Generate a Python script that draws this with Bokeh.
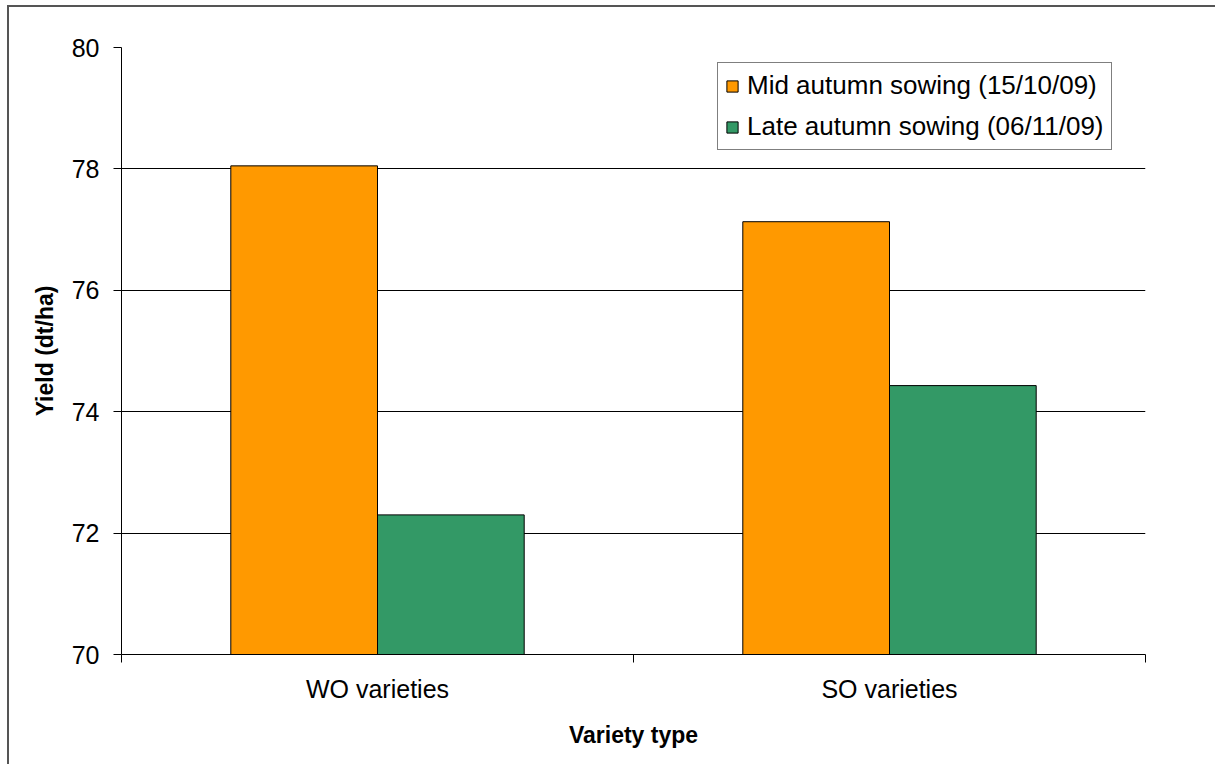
from bokeh.plotting import figure
from bokeh.models import (Range1d, FixedTicker, ColumnDataSource, Legend, LegendItem)
from bokeh.transform import dodge
from bokeh.embed import file_html
from bokeh.resources import INLINE

# ---- data ----
categories = ["WO varieties", "SO varieties"]
series_names = ["Mid autumn sowing (15/10/09)", "Late autumn sowing (06/11/09)"]
mid_autumn = [78.05, 77.13]
late_autumn = [72.3, 74.43]
y_ticks = [70, 72, 74, 76, 78, 80]
baseline = 70

colors = ["#FF9900", "#339966"]
FONT = "Liberation Sans"

cat_pos = [2 * i + 1 for i in range(len(categories))]
src = ColumnDataSource(dict(x=cat_pos, mid=mid_autumn, late=late_autumn,
                            base=[baseline] * len(categories)))

p = figure(width=1196, height=764, frame_width=1024, frame_height=607,
           x_range=Range1d(0, 2 * len(categories)), y_range=Range1d(y_ticks[0], y_ticks[-1]),
           output_backend="svg", toolbar_location=None,
           min_border_left=112, min_border_top=40, min_border_right=60, min_border_bottom=110,
           styles={"border-top": "2px solid #555555", "border-left": "2px solid #555555",
                   "margin-left": "7px", "margin-top": "5px", "padding-right": "10px"})
p.outline_line_color = None
p.background_fill_color = "white"
p.border_fill_color = "white"

bw = 0.573
r1 = p.vbar(x=dodge("x", -bw / 2, range=p.x_range), top="mid", bottom="base", width=bw,
            source=src, fill_color=colors[0], line_color="black", line_width=1)
r2 = p.vbar(x=dodge("x", bw / 2, range=p.x_range), top="late", bottom="base", width=bw,
            source=src, fill_color=colors[1], line_color="black", line_width=1)

# y axis
p.yaxis.ticker = FixedTicker(ticks=y_ticks)
p.yaxis.axis_label = "Yield (dt/ha)"
p.yaxis.axis_label_text_font = FONT
p.yaxis.axis_label_text_font_style = "bold"
p.yaxis.axis_label_text_font_size = "23px"
p.yaxis.axis_label_text_color = "black"
p.yaxis.axis_label_standoff = 11
p.yaxis.major_label_text_font = FONT
p.yaxis.major_label_text_font_size = "25px"
p.yaxis.major_label_text_color = "black"
p.yaxis.major_label_standoff = 14
p.yaxis.major_tick_out = 8
p.yaxis.major_tick_in = 0
p.yaxis.major_tick_line_color = "black"
p.yaxis.minor_tick_line_color = None
p.yaxis.axis_line_color = "black"

# x axis
p.xaxis.ticker = FixedTicker(ticks=cat_pos, minor_ticks=list(range(0, 2 * len(categories) + 1, 2)))
p.xaxis.major_label_overrides = {cp: c for cp, c in zip(cat_pos, categories)}
p.xaxis.major_tick_line_color = None
p.xaxis.minor_tick_line_color = "black"
p.xaxis.minor_tick_out = 8
p.xaxis.minor_tick_in = 0
p.xaxis.major_tick_out = 8
p.xaxis.major_label_standoff = 12
p.xaxis.major_label_text_font = FONT
p.xaxis.major_label_text_font_size = "25px"
p.xaxis.major_label_text_color = "black"
p.xaxis.axis_label = "Variety type"
p.xaxis.axis_label_text_font = FONT
p.xaxis.axis_label_text_font_style = "bold"
p.xaxis.axis_label_text_font_size = "23px"
p.xaxis.axis_label_text_color = "black"
p.xaxis.axis_label_standoff = 16
p.xaxis.axis_line_color = "black"

# grid
p.xgrid.grid_line_color = None
p.ygrid.ticker = FixedTicker(ticks=y_ticks)
p.ygrid.grid_line_color = "black"
p.ygrid.grid_line_width = 1

legend = Legend(items=[LegendItem(label=series_names[0], renderers=[r1]),
                       LegendItem(label=series_names[1], renderers=[r2])],
                location=(596, 504))
legend.label_text_font = FONT
legend.label_text_font_size = "26px"
legend.label_text_color = "black"
legend.glyph_width = 14
legend.glyph_height = 14
legend.label_height = 30
legend.spacing = 10
legend.padding = 7
legend.label_standoff = 8
legend.border_line_color = "black"
legend.border_line_width = 1
legend.background_fill_color = "white"
legend.background_fill_alpha = 1
p.add_layout(legend, "center")

open("out.html", "w").write(file_html(p, INLINE))
